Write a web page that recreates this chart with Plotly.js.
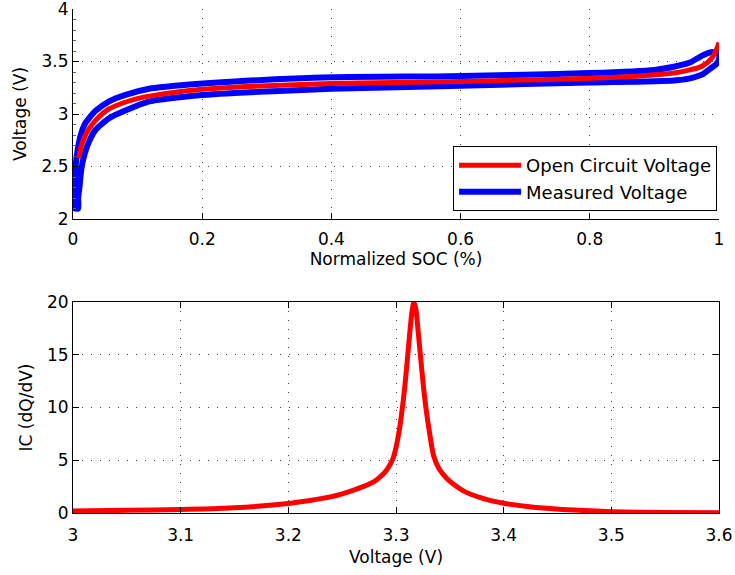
<!DOCTYPE html>
<html>
<head>
<meta charset="utf-8">
<script src="https://cdn.plot.ly/plotly-3.0.1.min.js"></script>
<style>html,body{margin:0;padding:0;background:#fff;}#chart{width:735px;height:575px;}</style>
</head>
<body>
<div id="chart"></div>
<script>
// Top panel: open circuit voltage vs normalized SOC
var ocvSoc = [0.009,0.013,0.018,0.025,0.035,0.045,0.056,0.075,0.095,0.118,0.15,0.2,0.25,0.3,0.4,0.5,0.6,0.7,0.8,0.87,0.93,0.955,0.975,0.99,1.0];
var ocvV   = [2.58,2.70,2.78,2.86,2.94,3.00,3.05,3.10,3.14,3.17,3.20,3.235,3.255,3.27,3.29,3.30,3.31,3.325,3.34,3.36,3.39,3.42,3.46,3.54,3.68];

// Top panel: measured voltage loop (charge branch then discharge branch)
var measSoc = [0.003,0.003,0.004,0.007,0.012,0.018,0.025,0.035,0.056,0.08,0.118,0.18,0.25,0.4,0.583,0.7,0.8,0.9,0.93,0.955,0.975,0.99,1.0,
               1.0,0.995,0.986,0.975,0.955,0.93,0.8,0.6,0.4,0.25,0.18,0.118,0.08,0.056,0.035,0.025,0.018,0.013,0.010,0.008,0.008,0.003];
var measV   = [2.10,2.30,2.50,2.65,2.80,2.90,2.96,3.03,3.12,3.18,3.24,3.28,3.31,3.35,3.36,3.375,3.39,3.42,3.45,3.49,3.56,3.59,3.57,
               3.52,3.47,3.43,3.38,3.34,3.32,3.30,3.27,3.24,3.20,3.17,3.12,3.03,2.96,2.85,2.74,2.62,2.48,2.30,2.20,2.10,2.10];

// Bottom panel: incremental capacity vs voltage
var icV = [3.00,3.05,3.10,3.15,3.18,3.20,3.22,3.24,3.25,3.26,3.27,3.28,3.285,3.29,3.294,3.297,3.300,3.303,3.305,3.308,3.3105,3.313,3.315,3.3167,
           3.3185,3.3205,3.323,3.3255,3.328,3.331,3.335,3.34,3.347,3.355,3.3625,3.37,3.38,3.39,3.40,3.42,3.44,3.47,3.50,3.55,3.60];
var icQ = [0.18,0.25,0.33,0.50,0.70,0.90,1.18,1.55,1.82,2.15,2.52,3.0,3.4,3.9,4.5,5.1,6.2,7.8,9.2,11.8,14.5,17.3,19.2,20.0,
           19.3,17.3,14.6,12.0,9.8,7.7,5.4,4.2,3.3,2.6,2.1,1.75,1.4,1.12,0.92,0.65,0.45,0.25,0.13,0.05,0.02];

var topXTicks = [0,0.2,0.4,0.6,0.8,1];
var topYTicks = [2,2.5,3,3.5,4];
var botXTicks = [3,3.1,3.2,3.3,3.4,3.5,3.6];
var botYTicks = [0,5,10,15,20];

var FONT = {family: 'DejaVu Sans, Arial, sans-serif', size: 17, color: '#000'};
var LFONT = {family: 'DejaVu Sans, Arial, sans-serif', size: 18, color: '#000'};
var GRID = {showgrid: true, gridcolor: '#444', griddash: '1px,8px', gridwidth: 1};

var traces = [
  {x: measSoc, y: measV, type: 'scatter', mode: 'lines', name: 'Measured Voltage',
   line: {color: '#0000ff', width: 6, shape: 'spline', smoothing: 0.6}, xaxis: 'x', yaxis: 'y', legendrank: 2},
  {x: ocvSoc, y: ocvV, type: 'scatter', mode: 'lines', name: 'Open Circuit Voltage',
   line: {color: '#ff0000', width: 5, shape: 'spline'}, xaxis: 'x', yaxis: 'y', legendrank: 1},
  {x: icV, y: icQ, type: 'scatter', mode: 'lines', name: 'IC', showlegend: false,
   line: {color: '#ff0000', width: 5, shape: 'spline', smoothing: 0.7}, xaxis: 'x2', yaxis: 'y2'}
];

function ax(extra) {
  var base = Object.assign({
    showline: true, linecolor: '#000', linewidth: 1,
    ticks: 'inside', ticklen: 6, tickcolor: '#000', tickwidth: 1,
    zeroline: false, tickfont: FONT, tickmode: 'array', ticklabeloverflow: 'allow'
  }, GRID);
  return Object.assign(base, extra);
}

var layout = {
  width: 735, height: 575,
  paper_bgcolor: '#fff', plot_bgcolor: '#fff',
  margin: {l: 73, r: 16, t: 9, b: 62},
  font: FONT,
  showlegend: true,
  legend: {x: 0.997, y: 0.599, xanchor: 'right', yanchor: 'bottom',
           bgcolor: '#fff', bordercolor: '#000', borderwidth: 1,
           font: LFONT, traceorder: 'normal', itemwidth: 62, tracegroupgap: 0},
  xaxis: ax({domain: [0, 1], range: [0, 1], anchor: 'y', tickvals: topXTicks,
             ticktext: topXTicks.map(String), ticklabelstandoff: 5,
             title: {text: 'Normalized SOC (%)', font: FONT, standoff: 3}}),
  yaxis: ax({domain: [0.5833, 1], range: [2, 4], anchor: 'x', tickvals: topYTicks,
             ticktext: topYTicks.map(String),
             minor: {ticks: 'inside', ticklen: 3, tickcolor: '#666', dtick: 0.1, showgrid: false},
             title: {text: 'Voltage (V)', font: FONT, standoff: 10}}),
  xaxis2: ax({domain: [0, 1], range: [3, 3.6], anchor: 'y2', tickvals: botXTicks,
              ticktext: botXTicks.map(String), mirror: 'ticks', ticklabelstandoff: 7,
              title: {text: 'Voltage (V)', font: FONT, standoff: 6}}),
  yaxis2: ax({domain: [0, 0.4187], range: [0, 20], anchor: 'x2', tickvals: botYTicks,
              ticktext: botYTicks.map(String), mirror: 'ticks',
              title: {text: 'IC (dQ/dV)', font: FONT, standoff: 10}})
};

Plotly.newPlot('chart', traces, layout, {staticPlot: true, displayModeBar: false});
</script>
</body>
</html>
